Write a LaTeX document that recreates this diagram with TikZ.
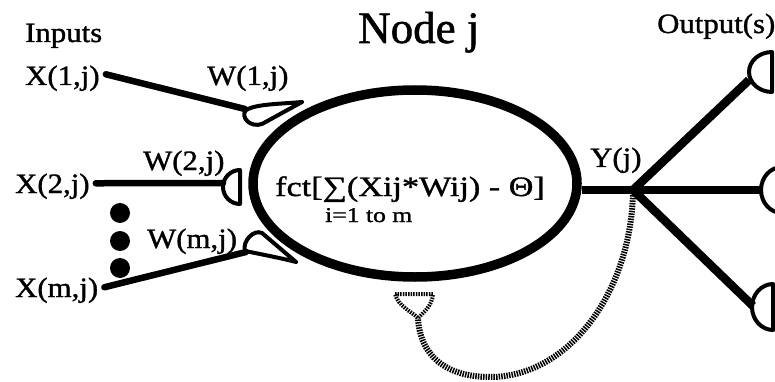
\documentclass[tikz,border=0pt]{standalone}
\usepackage{fontspec}
\setmainfont[FakeBold=1.2]{Liberation Serif}
\newfontfamily\stretchfont[FakeStretch=1.1, FakeBold=1.2]{Liberation Serif}
\newfontfamily\widefont[FakeStretch=1.22, FakeBold=1.2]{Liberation Serif}
\usetikzlibrary{shapes.geometric}

% synapse bulb: flat side at x=#1, centre height #2, half height #3, depth #4
\newcommand{\synD}[4]{%
  \draw[syn] (#1,#2-#3) .. controls (#1-0.55*#4,#2-#3) and (#1-#4,#2-0.55*#3) .. (#1-#4,#2)
    .. controls (#1-#4,#2+0.55*#3) and (#1-0.55*#4,#2+#3) .. (#1,#2+#3) -- cycle;}

\begin{document}
\begin{tikzpicture}[x=1pt, y=-1pt,
  lbl/.style={font=\stretchfont\fontsize{28}{30}\selectfont, inner sep=0pt, anchor=base west},
  wire/.style={line width=6.5pt, line cap=round},
  axon/.style={line width=8.5pt},
  syn/.style={line width=4pt, line join=round, line cap=round},
  hatch/.style={line width=6pt, dash pattern=on 1.5pt off 1.1pt},
  dot/.style={circle, fill, minimum size=20pt, inner sep=0pt}
]
\useasboundingbox (0,0) rectangle (775,382);
\clip (0,0) rectangle (775,382);

% the node
\node[draw, ellipse, line width=9.5pt, minimum width=324pt, minimum height=187pt, inner sep=0pt] (cell) at (415,183.5) {};
\node[font=\fontsize{45}{48}\selectfont, inner sep=0pt, anchor=base west] (title) at (358,43) {Node j};
\node[font=\widefont\fontsize{28}{30}\selectfont, inner sep=0pt, anchor=base west] (fct) at (275,196) {fct[∑(Xij*Wij) - Θ]};
\node[font=\widefont\fontsize{21}{23}\selectfont, inner sep=0pt, anchor=base west] (range) at (325,222) {i=1 to m};

% inputs
\node[lbl] (inputs) at (25,42) {Inputs};
\node[lbl] (x1) at (25,85) {X(1,j)};
\node[lbl] (x2) at (15,193) {X(2,j)};
\node[lbl] (xm) at (15,297) {X(m,j)};
\node[lbl] (w1) at (207,85) {W(1,j)};
\node[lbl] (w2) at (143,170) {W(2,j)};
\node[lbl] (wm) at (147,248) {W(m,j)};
\node[dot] (d1) at (120,213) {};
\node[dot] (d2) at (120,241) {};
\node[dot] (d3) at (120,268) {};

% outputs
\node[lbl] (yj) at (590,167) {Y(j)};
\node[lbl] (outs) at (657,33) {Output(s)};

\coordinate (s1) at (245,109);
\coordinate (s2) at (223,183);
\coordinate (sm) at (246,252);
\coordinate (junc) at (633,190);
\coordinate (o1) at (749,80);
\coordinate (o2) at (762,190);
\coordinate (o3) at (753,306);
\coordinate (fb) at (418,318);

% feedback
\draw[hatch] (junc) .. controls (632,290) and (570,377) .. (490,377)
  .. controls (445,377) and (420,355) .. (fb);
\draw[hatch, line width=4pt] (395,294) -- (433,294) .. controls (432,306) and (424,312) .. (fb)
  .. controls (412,312) and (398,306) .. (395,294);

\draw[wire] (x1.east) ++(6,-4) -- (s1);
\draw[wire] (x2.east) ++(6,-3) -- (s2);
\draw[wire] (xm.east) ++(6,-3) -- (sm);

\draw[syn] (302,102) .. controls (280,104) and (256,104) .. (246,110)
  .. controls (240,117) and (250,128) .. (262,124) -- (302,102);
\synD{240}{187}{17}{17}
\draw[syn] (296,262) -- (262,233) .. controls (254,229) and (242,241) .. (245,251)
  .. controls (265,255) and (285,259) .. (296,262);

\draw[axon] (cell.east |- junc) -- (junc) -- (o2);
\draw[axon] (junc) -- (o1);
\draw[axon] (junc) -- (o3);
\synD{772}{72}{20}{23}
\synD{782}{190}{23}{21}
\synD{773}{307}{23}{21}
\end{tikzpicture}
\end{document}
